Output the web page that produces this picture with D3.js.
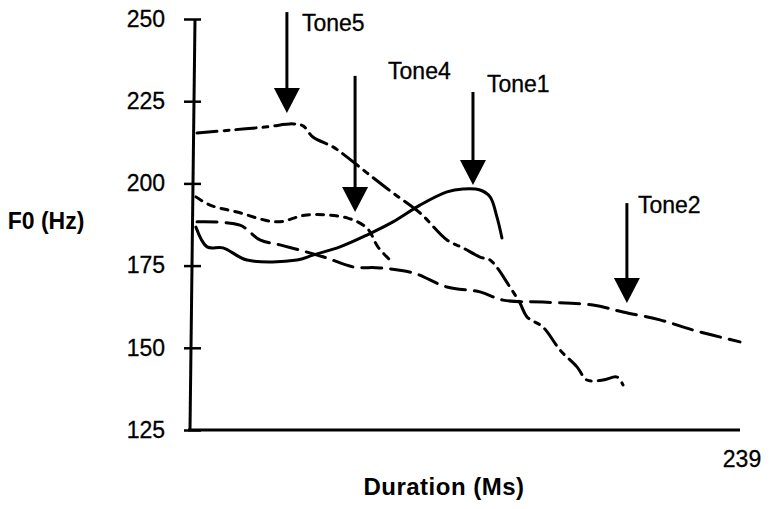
<!DOCTYPE html>
<html>
<head>
<meta charset="utf-8">
<script src="https://cdn.jsdelivr.net/npm/d3@7"></script>
<style>
  body { margin: 0; background: #fff; }
  svg { display: block; font-family: 'Liberation Sans', Arial, sans-serif; }
</style>
</head>
<body>
<div id="chart"></div>
<script>
// F0 contours, duration in ms vs F0 in Hz
const tone1 = [[0.4, 186.7], [5.3, 180.7], [12.3, 180.4], [22.8, 176.7], [44.7, 176.7], [51.7, 178.2],
  [63.6, 180.7], [75.4, 184.3], [86.8, 188.3], [98.7, 193.4], [110.5, 197.4], [117.5, 198.3],
  [125.0, 198.0], [129.4, 195.9], [132.4, 189.8], [134.6, 183.4]]
const tone2 = [[0.9, 188.3], [19.7, 187.3], [28.5, 182.8], [37.3, 181.3], [49.1, 179.1], [57.9, 177.3],
  [69.3, 174.6], [81.1, 174.3], [95.6, 172.8], [110.5, 168.5], [125.0, 167.0], [135.1, 164.5],
  [152.6, 163.9], [174.5, 163.0], [187.7, 160.9], [203.9, 158.5], [218.4, 155.4], [239, 151.8]]
const tone4 = [[0.4, 195.9], [6.6, 193.4], [18.4, 191.3], [36.0, 188.3], [49.1, 190.4], [66.7, 189.5],
  [75.4, 186.4], [80.2, 180.7], [85.5, 176.7]]
const tone5 = [[0.9, 215.3], [15.3, 216.2], [31.6, 217.2], [43.0, 218.1], [47.4, 217.5], [51.7, 214.1],
  [60.5, 211.1], [66.7, 208.0], [75.4, 203.2], [86.8, 197.1], [98.7, 191.0], [110.5, 182.8],
  [117.5, 180.4], [125.0, 177.6], [129.4, 176.7], [138.1, 168.5], [142.5, 163.6], [145.6, 159.4],
  [152.6, 156.3], [160.1, 149.3], [167.5, 144.2], [171.9, 140.2], [178.9, 140.2], [185.1, 141.1],
  [187.7, 138.7]]

const yTicks = [125, 150, 175, 200, 225, 250]
// arrow labels: name, x (ms), top of shaft (Hz), tip (Hz)
const arrowNames = ['Tone5', 'Tone4', 'Tone1', 'Tone2']
const arrowX = [40.3, 70.2, 121.9, 189.4]
const arrowTop = [252.1, 232.7, 227.8, 194.0]
const arrowTip = [221.4, 191.3, 199.5, 163.6]

const width = 772
const height = 509

const svg = d3.select('#chart')
  .append('svg')
  .attr('width', width)
  .attr('height', height)

const x = d3.scaleLinear().domain([0, 239]).range([195, 740])
const y = d3.scaleLinear().domain([125, 250]).range([430, 19])

// y axis, ticks cross the line
const yAxis = svg.append('g')
  .attr('transform', 'translate(193,0)')
  .call(d3.axisLeft(y).tickValues(yTicks).tickSize(8).tickPadding(20))
yAxis.select('.domain').remove()
yAxis.selectAll('.tick line')
  .attr('x1', -9)
  .attr('x2', 8)
  .attr('stroke', '#000')
  .attr('stroke-width', 2.5)
yAxis.selectAll('.tick text')
  .attr('font-size', 23)
  .attr('fill', '#000')
  .attr('stroke', '#000')
  .attr('stroke-width', 0.3)
  .attr('font-family', 'Liberation Sans, Arial, sans-serif')

svg.append('line')
  .attr('x1', 195).attr('y1', y(250))
  .attr('x2', 190).attr('y2', y(125))
  .attr('stroke', '#000')
  .attr('stroke-width', 3)

// x axis line
svg.append('line')
  .attr('x1', 188).attr('y1', y(125))
  .attr('x2', x(239)).attr('y2', y(125))
  .attr('stroke', '#000')
  .attr('stroke-width', 3)

svg.append('text')
  .attr('x', 742).attr('y', 467)
  .attr('text-anchor', 'middle')
  .attr('font-size', 23)
  .attr('stroke', '#000')
  .attr('stroke-width', 0.3)
  .text('239')

svg.append('text')
  .attr('x', 46).attr('y', 229)
  .attr('text-anchor', 'middle')
  .attr('font-size', 23)
  .attr('font-weight', 'bold')
  .text('F0 (Hz)')

svg.append('text')
  .attr('x', 444).attr('y', 495)
  .attr('text-anchor', 'middle')
  .attr('font-size', 24)
  .attr('letter-spacing', 0.5)
  .attr('font-weight', 'bold')
  .text('Duration (Ms)')

// contours
const line = d3.line()
  .x(function (d) { return x(d[0]) })
  .y(function (d) { return y(d[1]) })
  .curve(d3.curveCatmullRom)

const series = [
  { data: tone1, dash: null },
  { data: tone2, dash: '20,9' },
  { data: tone4, dash: '7,7' },
  { data: tone5, dash: '20,7,5,7' }
]

svg.selectAll('path.contour')
  .data(series)
  .enter()
  .append('path')
  .attr('class', 'contour')
  .attr('d', function (d) { return line(d.data) })
  .attr('fill', 'none')
  .attr('stroke', '#000')
  .attr('stroke-width', 3)
  .attr('stroke-linecap', 'round')
  .attr('stroke-dasharray', function (d) { return d.dash })

// arrows
const arrows = svg.selectAll('g.arrow')
  .data(arrowNames)
  .enter()
  .append('g')
  .attr('class', 'arrow')

arrows.append('line')
  .attr('x1', function (d, i) { return x(arrowX[i]) })
  .attr('x2', function (d, i) { return x(arrowX[i]) })
  .attr('y1', function (d, i) { return y(arrowTop[i]) })
  .attr('y2', function (d, i) { return y(arrowTip[i]) - 20 })
  .attr('stroke', '#000')
  .attr('stroke-width', 3)

arrows.append('path')
  .attr('d', function (d, i) {
    const px = x(arrowX[i])
    const py = y(arrowTip[i])
    return 'M' + (px - 13) + ',' + (py - 25) + 'L' + (px + 13) + ',' + (py - 25) + 'L' + px + ',' + py + 'Z'
  })
  .attr('fill', '#000')

arrows.append('text')
  .attr('x', function (d, i) { return x(arrowX[i]) + [15, 33, 14, 11][i] })
  .attr('y', function (d, i) { return y(arrowTop[i]) + [19, 3, 0, 10][i] })
  .attr('font-size', 23)
  .attr('stroke', '#000')
  .attr('stroke-width', 0.3)
  .text(function (d) { return d })
</script>
</body>
</html>
